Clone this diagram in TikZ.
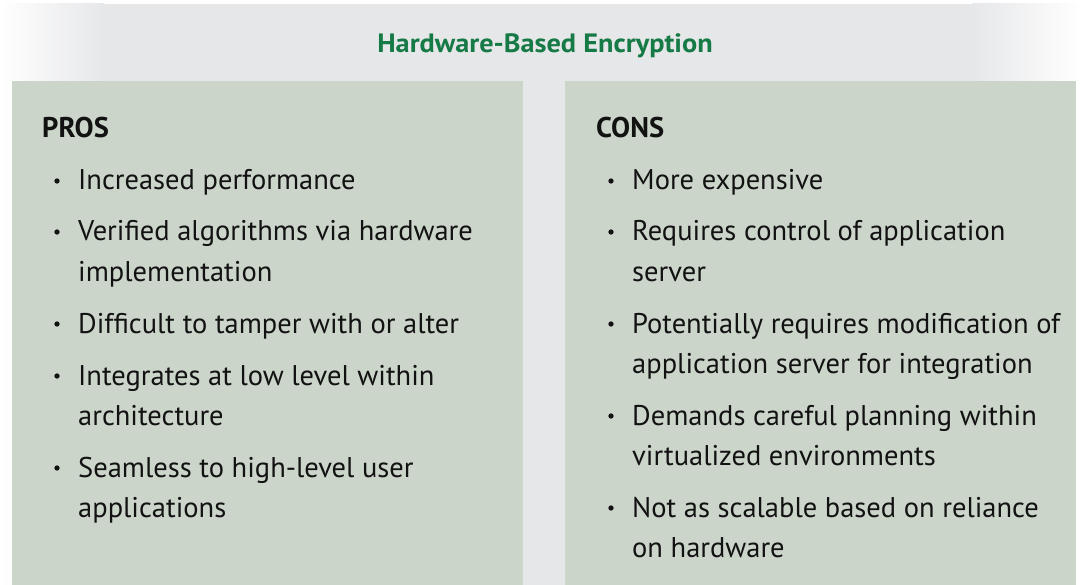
\documentclass[tikz,border=0pt]{standalone}
\usepackage{fontspec}
\setmainfont{PT Sans}
\usetikzlibrary{shadings}

\definecolor{bandgray}{RGB}{230,231,233}
\definecolor{panelgreen}{RGB}{203,213,202}
\definecolor{titlegreen}{RGB}{22,122,70}
\definecolor{inkblack}{RGB}{18,18,18}

\tikzset{
  title/.style={anchor=base, inner sep=0pt, text=titlegreen,
    font=\fontsize{26.5}{30}\selectfont\bfseries},
  head/.style={anchor=base west, inner sep=0pt, text=inkblack,
    font=\fontsize{28.5}{40}\selectfont\bfseries},
  line/.style={anchor=base west, inner sep=0pt, text=inkblack,
    font=\fontsize{28.5}{40}\selectfont},
  dot/.style={circle, fill=inkblack, draw=none, inner sep=0pt,
    minimum size=5.3pt},
  panel/.style={fill=panelgreen, draw=none},
}

\begin{document}
\begin{tikzpicture}[x=1pt,y=-1pt]
\useasboundingbox (0,0) rectangle (1081,585);
\fill[white] (0,0) rectangle (1081,585);

% grey band, fading out at both ends
\shade[left color=white, right color=bandgray] (0,4) rectangle (104,585);
\fill[bandgray] (104,4) rectangle (972,585);
\shade[left color=bandgray, right color=white] (972,4) rectangle (1081,585);

\node[title] (title) at (545,53) {\scalebox{1.068}[1]{Hardware-Based Encryption}};

% the two panels
\fill[panel] (12,81) rectangle (523,585);
\fill[panel] (565,81) rectangle (1076,585);

% pros
\node[head] (pros) at (42,138) {PROS};
\node[dot] (pb1) at (57,181) {};
\node[line] (p1) at (78,190) {Increased performance};
\node[dot] (pb2) at (57,232) {};
\node[line] (p2a) at (78,241) {Verified algorithms via hardware};
\node[line] (p2b) at (78,281) {implementation};
\node[dot] (pb3) at (57,324) {};
\node[line] (p3) at (78,333) {Difficult to tamper with or alter};
\node[dot] (pb4) at (57,376) {};
\node[line] (p4a) at (78,385) {Integrates at low level within};
\node[line] (p4b) at (78,425) {architecture};
\node[dot] (pb5) at (57,468) {};
\node[line] (p5a) at (78,477) {Seamless to high-level user};
\node[line] (p5b) at (78,517) {applications};

% cons
\node[head] (cons) at (596,138) {CONS};
\node[dot] (cb1) at (611,181) {};
\node[line] (c1) at (632,190) {More expensive};
\node[dot] (cb2) at (611,232) {};
\node[line] (c2a) at (632,241) {Requires control of application};
\node[line] (c2b) at (632,281) {server};
\node[dot] (cb3) at (611,324) {};
\node[line] (c3a) at (632,333) {Potentially requires modification of};
\node[line] (c3b) at (632,373) {application server for integration};
\node[dot] (cb4) at (611,416) {};
\node[line] (c4a) at (632,425) {Demands careful planning within};
\node[line] (c4b) at (632,465) {virtualized environments};
\node[dot] (cb5) at (611,508) {};
\node[line] (c5a) at (632,517) {Not as scalable based on reliance};
\node[line] (c5b) at (632,557) {on hardware};
\end{tikzpicture}
\end{document}
